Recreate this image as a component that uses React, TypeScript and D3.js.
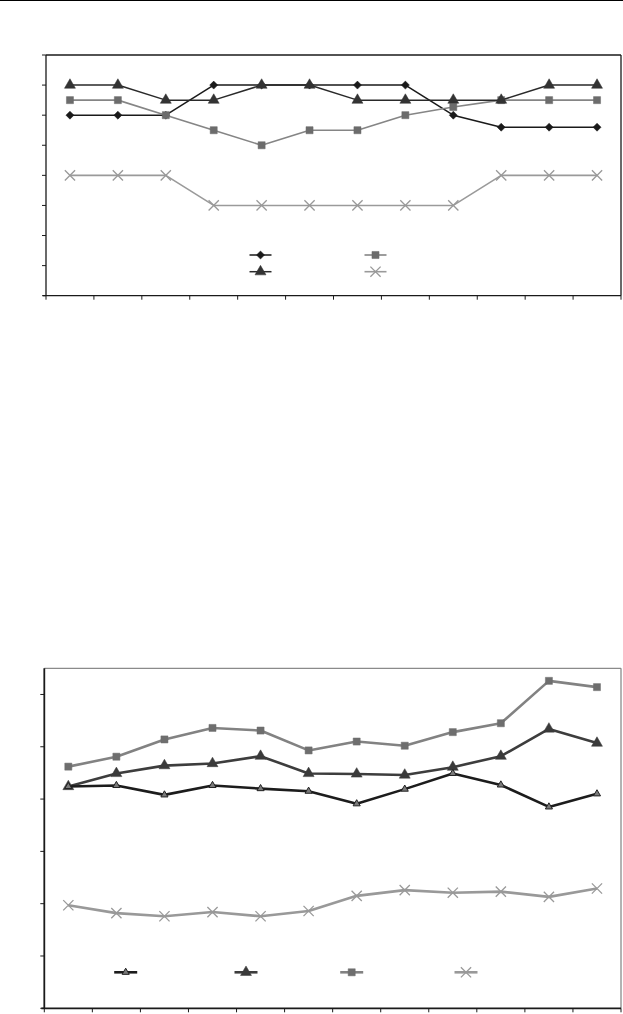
import React from "react";
import * as d3 from "d3";

const categories = ["1", "2", "3", "4", "5", "6", "7", "8", "9", "10", "11", "12"];

// Chart 1 series
const c1Diamond = [6, 6, 6, 7, 7, 7, 7, 7, 6, 5.6, 5.6, 5.6];
const c1Triangle = [7, 7, 6.5, 6.5, 7, 7, 6.5, 6.5, 6.5, 6.5, 7, 7];
const c1Square = [6.5, 6.5, 6, 5.5, 5, 5.5, 5.5, 6, 6.27, 6.5, 6.5, 6.5];
const c1Cross = [4, 4, 4, 3, 3, 3, 3, 3, 3, 4, 4, 4];
const c1Ticks = [0, 1, 2, 3, 4, 5, 6, 7, 8];

// Chart 2 series
const c2Black = [4.24, 4.26, 4.08, 4.26, 4.2, 4.15, 3.91, 4.19, 4.49, 4.27, 3.85, 4.1];
const c2Triangle = [4.24, 4.49, 4.64, 4.68, 4.82, 4.49, 4.48, 4.46, 4.61, 4.82, 5.34, 5.07];
const c2Square = [4.62, 4.81, 5.14, 5.36, 5.31, 4.93, 5.1, 5.02, 5.28, 5.45, 6.26, 6.14];
const c2Cross = [1.97, 1.82, 1.76, 1.84, 1.76, 1.86, 2.15, 2.26, 2.21, 2.23, 2.13, 2.29];
const c2Ticks = [0, 1, 2, 3, 4, 5, 6];

type Marker = "diamond" | "triangle" | "square" | "cross" | "smalltri";

function markerPath(m: Marker): string {
  switch (m) {
    case "diamond":
      return d3.symbol(d3.symbolSquare, 32)()!;
    case "triangle":
      return d3.symbol(d3.symbolTriangle, 52)()!;
    case "smalltri":
      return d3.symbol(d3.symbolTriangle, 22)()!;
    case "square":
      return d3.symbol(d3.symbolSquare, 50)()!;
    case "cross":
      return d3.symbol(d3.symbolX, 70)()!;
  }
}

interface SeriesDef {
  values: number[];
  marker: Marker;
  line: string;
  width: number;
  fill: string;
  stroke: string;
}

function Chart(props: {
  left: number;
  right: number;
  top: number;
  bottom: number;
  yMax: number;
  ticks: number[];
  series: SeriesDef[];
  frameColor: string;
  axisWidth: number;
  legend: { x: number; y: number; s: number }[];
  legendLen: number;
}) {
  const { left, right, top, bottom, yMax, ticks, series, frameColor, axisWidth, legend, legendLen } = props;
  const x = d3.scaleBand<string>().domain(categories).range([left, right]);
  const y = d3.scaleLinear().domain([0, yMax]).range([bottom, top]);
  const line = d3
    .line<number>()
    .x((_, i) => x(categories[i])! + x.bandwidth() / 2)
    .y((v) => y(v));
  const bounds = categories.map((c) => x(c)!).concat([right]);
  const drawMarker = (s: SeriesDef, cx: number, cy: number, key: string | number) => (
    <path
      key={key}
      d={markerPath(s.marker)}
      transform={`translate(${cx},${cy})${s.marker === "diamond" ? " rotate(45)" : ""}`}
      fill={s.marker === "cross" ? "none" : s.fill}
      stroke={s.stroke}
      strokeWidth={s.marker === "cross" ? 1.3 : s.marker === "smalltri" ? 1 : 0.5}
    />
  );
  return (
    <g>
      <line x1={left} x2={right} y1={top} y2={top} stroke={frameColor} strokeWidth={1.3} />
      <line x1={right} x2={right} y1={top} y2={bottom} stroke={frameColor} strokeWidth={1.3} />
      <line x1={left} x2={left} y1={top} y2={bottom} stroke="#1a1a1a" strokeWidth={axisWidth} />
      <line x1={left - 3} x2={right} y1={bottom} y2={bottom} stroke="#1a1a1a" strokeWidth={axisWidth} />
      {ticks.map((t) => (
        <line key={"yt" + t} x1={left - 4} x2={left} y1={y(t)} y2={y(t)} stroke="#1a1a1a" strokeWidth={1} />
      ))}
      {bounds.map((b, i) => (
        <line key={"xt" + i} x1={b} x2={b} y1={bottom} y2={bottom + 4} stroke="#1a1a1a" strokeWidth={1} />
      ))}
      {series.map((s, si) => (
        <g key={"s" + si}>
          <path d={line(s.values)!} fill="none" stroke={s.line} strokeWidth={s.width} strokeLinejoin="round" />
          {s.values.map((v, i) => drawMarker(s, x(categories[i])! + x.bandwidth() / 2, y(v), i))}
        </g>
      ))}
      {legend.map((l, i) => {
        const s = series[l.s];
        return (
          <g key={"lg" + i}>
            <line x1={l.x - legendLen / 2} x2={l.x + legendLen / 2} y1={l.y} y2={l.y} stroke={s.line} strokeWidth={s.width} />
            {drawMarker(s, l.x, l.y, "m")}
          </g>
        );
      })}
    </g>
  );
}

export default function App() {
  const series1: SeriesDef[] = [
    { values: c1Diamond, marker: "diamond", line: "#1a1a1a", width: 1.5, fill: "#1a1a1a", stroke: "#1a1a1a" },
    { values: c1Square, marker: "square", line: "#858585", width: 1.6, fill: "#6c6c6c", stroke: "#6c6c6c" },
    { values: c1Triangle, marker: "triangle", line: "#2a2a2a", width: 1.5, fill: "#333333", stroke: "#333333" },
    { values: c1Cross, marker: "cross", line: "#9a9a9a", width: 1.6, fill: "#999999", stroke: "#999999" },
  ];
  const series2: SeriesDef[] = [
    { values: c2Cross, marker: "cross", line: "#999999", width: 2.6, fill: "#999999", stroke: "#999999" },
    { values: c2Square, marker: "square", line: "#828282", width: 2.6, fill: "#6e6e6e", stroke: "#6e6e6e" },
    { values: c2Triangle, marker: "triangle", line: "#3d3d3d", width: 2.6, fill: "#3a3a3a", stroke: "#3a3a3a" },
    { values: c2Black, marker: "smalltri", line: "#1c1c1c", width: 2.6, fill: "#7a7a7a", stroke: "#222222" },
  ];
  return (
    <div style={{ position: "absolute", left: 0, top: 0 }}>
      <svg width={623} height={1014} style={{ display: "block" }}>
        <rect width={623} height={1014} fill="#ffffff" />
        <line x1={0} x2={623} y1={0.5} y2={0.5} stroke="#000" strokeWidth={1.2} />
        <Chart
          left={46}
          right={621}
          top={55}
          bottom={295.7}
          yMax={8}
          ticks={c1Ticks}
          series={series1}
          frameColor="#1a1a1a"
          axisWidth={1.3}
          legendLen={22}
          legend={[
            { x: 260.5, y: 255, s: 0 },
            { x: 375.5, y: 255, s: 1 },
            { x: 260.5, y: 271.7, s: 2 },
            { x: 375.5, y: 271.7, s: 3 },
          ]}
        />
        <Chart
          left={44.3}
          right={621}
          top={668.3}
          bottom={1008.3}
          yMax={6.5}
          ticks={c2Ticks}
          series={series2}
          frameColor="#8a8a8a"
          axisWidth={1.8}
          legendLen={23}
          legend={[
            { x: 125.7, y: 972.3, s: 3 },
            { x: 246, y: 972.3, s: 2 },
            { x: 351.7, y: 972.3, s: 1 },
            { x: 466, y: 972.3, s: 0 },
          ]}
        />
      </svg>
    </div>
  );
}
